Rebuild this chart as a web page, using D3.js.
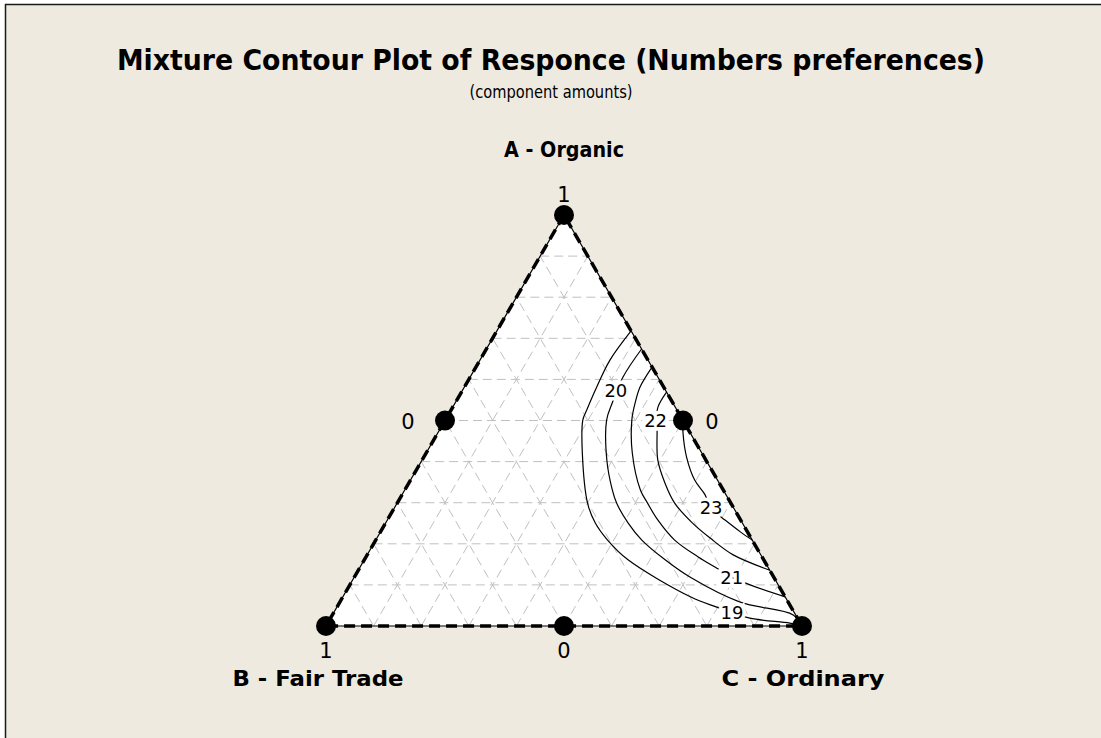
<!DOCTYPE html>
<html>
<head>
<meta charset="utf-8">
<script src="https://cdn.jsdelivr.net/npm/d3@7"></script>
<style>
  body { margin: 0; background: #ffffff; }
  text { font-family: "DejaVu Sans", Verdana, sans-serif; fill: #000; }
</style>
</head>
<body>
<script>
// mixture points are stored as [A, C]; B = 1 - A - C
var contourLevels = [19, 20, 21, 22, 23];

var contour19 = [[0.718,0.282],[0.647,0.273],[0.582,0.278],[0.526,0.285],[0.501,0.289],[0.421,0.328],
    [0.299,0.400],[0.251,0.440],[0.209,0.487],[0.161,0.554],[0.071,0.730],[0.046,0.798],[0.019,0.881],
    [0.007,0.971],[0,1]];
var contour20 = [[0.674,0.326],[0.606,0.321],[0.543,0.330],[0.501,0.339],[0.404,0.388],[0.331,0.436],
    [0.299,0.461],[0.251,0.509],[0.209,0.559],[0.161,0.632],[0.119,0.705],[0.058,0.841],[0.027,0.968],[0,1]];
var contour21 = [[0.630,0.370],[0.582,0.369],[0.543,0.378],[0.501,0.392],[0.421,0.433],[0.331,0.495],
    [0.299,0.526],[0.258,0.568],[0.209,0.628],[0.168,0.698],[0.141,0.750],[0.119,0.793],[0.100,0.841],
    [0.071,0.929]];
var contour22 = [[0.569,0.431],[0.533,0.431],[0.501,0.444],[0.477,0.457],[0.404,0.495],[0.348,0.538],
    [0.299,0.583],[0.251,0.644],[0.214,0.700],[0.173,0.769],[0.136,0.864]];
var contour23 = [[0.5,0.5],[0.470,0.515],[0.411,0.552],[0.355,0.597],[0.319,0.637],[0.287,0.663],
    [0.263,0.701],[0.229,0.756],[0.209,0.791]];

// where each level's label sits on its curve
var labelSpots = [[0.034,0.836],[0.574,0.322],[0.119,0.793],[0.501,0.442],[0.290,0.664]];

// design points: vertices then edge midpoints
var designPoints = [[1,0],[0,0],[0,1],[0.5,0],[0.5,0.5],[0,0.5]];
var gridTicks = [0.1,0.2,0.3,0.4,0.5,0.6,0.7,0.8,0.9];
var vertexNames = ["A - Organic", "B - Fair Trade", "C - Ordinary"];
var vertexTicks = ["1", "1", "1"];
var edgeTicks = ["0", "0", "0"];

window.onload = () => {
    var margin = { top: 215, left: 326 },
        width = 476,
        height = 411;

    var x = d3.scaleLinear().domain([0, 1]).range([0, width]);
    var y = d3.scaleLinear().domain([0, 1]).range([height, 0]);

    var px = function (p) { return x(p[1] + p[0] / 2); };
    var py = function (p) { return y(p[0]); };

    var svg = d3.select("body").append("svg")
        .attr("width", 1101)
        .attr("height", 738);

    // figure region
    svg.append("rect")
        .attr("x", 5.5).attr("y", 4.5)
        .attr("width", 1110).attr("height", 750)
        .attr("fill", "#eeeae0")
        .attr("stroke", "#1a1a1a")
        .attr("stroke-width", 1.5);

    svg.append("text")
        .attr("x", 551).attr("y", 70)
        .attr("text-anchor", "middle")
        .attr("font-weight", "bold")
        .attr("font-size", "28px")
        .attr("textLength", 868)
        .attr("lengthAdjust", "spacingAndGlyphs")
        .text("Mixture Contour Plot of Responce (Numbers preferences)");

    svg.append("text")
        .attr("x", 551).attr("y", 98)
        .attr("text-anchor", "middle")
        .attr("font-size", "18px")
        .attr("textLength", 163)
        .attr("lengthAdjust", "spacingAndGlyphs")
        .text("(component amounts)");

    var g = svg.append("g")
        .attr("transform", "translate(" + margin.left + "," + margin.top + ")");

    var line = d3.line().x(px).y(py);
    var triangle = [[1, 0], [0, 0], [0, 1], [1, 0]];

    g.append("path")
        .attr("d", line(triangle))
        .attr("fill", "#ffffff");

    // grid lines parallel to the three sides
    var gridSegs = [];
    gridTicks.forEach(function (t) {
        gridSegs.push([[t, 0], [t, 1 - t]]);          // constant A
        gridSegs.push([[0, t], [1 - t, t]]);          // constant C
        gridSegs.push([[0, 1 - t], [1 - t, 0]]);      // constant B
    });
    g.append("g").selectAll("path")
        .data(gridSegs)
        .enter()
        .append("path")
        .attr("d", line)
        .attr("fill", "none")
        .attr("stroke", "#c0c0c0")
        .attr("stroke-width", 1)
        .attr("stroke-dasharray", "9,5");

    // contour curves
    var curves = [contour19, contour20, contour21, contour22, contour23];
    var smooth = d3.line().x(px).y(py).curve(d3.curveCatmullRom.alpha(0.5));
    g.append("g").selectAll("path")
        .data(curves)
        .enter()
        .append("path")
        .attr("d", smooth)
        .attr("fill", "none")
        .attr("stroke", "#000")
        .attr("stroke-width", 1.2);

    g.append("g").selectAll("text")
        .data(contourLevels)
        .enter()
        .append("text")
        .attr("x", function (d, i) { return px(labelSpots[i]); })
        .attr("y", function (d, i) { return py(labelSpots[i]) + 7; })
        .attr("text-anchor", "middle")
        .attr("font-size", "18px")
        .attr("stroke", "#ffffff")
        .attr("stroke-width", 7)
        .attr("paint-order", "stroke")
        .text(function (d) { return d; });

    // triangle edges: thin solid line under a heavy dash
    g.append("path")
        .attr("d", line(triangle))
        .attr("fill", "none")
        .attr("stroke", "#000")
        .attr("stroke-width", 1.2);
    g.append("path")
        .attr("d", line(triangle))
        .attr("fill", "none")
        .attr("stroke", "#000")
        .attr("stroke-width", 3.5)
        .attr("stroke-dasharray", "11,6");

    g.append("g").selectAll("circle")
        .data(designPoints)
        .enter()
        .append("circle")
        .attr("cx", px)
        .attr("cy", py)
        .attr("r", 10)
        .attr("fill", "#000");

    // tick labels at vertices and edge midpoints
    var tickFont = "21px";
    var vOff = [[0, -13], [0, 32], [0, 32]];
    g.append("g").selectAll("text")
        .data(vertexTicks)
        .enter()
        .append("text")
        .attr("x", function (d, i) { return px(designPoints[i]) + vOff[i][0]; })
        .attr("y", function (d, i) { return py(designPoints[i]) + vOff[i][1]; })
        .attr("text-anchor", "middle")
        .attr("font-size", tickFont)
        .text(function (d) { return d; });

    var eOff = [[-37, 8], [29, 8], [0, 32]];
    g.append("g").selectAll("text")
        .data(edgeTicks)
        .enter()
        .append("text")
        .attr("x", function (d, i) { return px(designPoints[i + 3]) + eOff[i][0]; })
        .attr("y", function (d, i) { return py(designPoints[i + 3]) + eOff[i][1]; })
        .attr("text-anchor", "middle")
        .attr("font-size", tickFont)
        .text(function (d) { return d; });

    // component names
    var nOff = [[0, -58], [-8, 60], [1, 60]];
    var nLen = [120, 171, 163];
    g.append("g").selectAll("text")
        .data(vertexNames)
        .enter()
        .append("text")
        .attr("x", function (d, i) { return px(designPoints[i]) + nOff[i][0]; })
        .attr("y", function (d, i) { return py(designPoints[i]) + nOff[i][1]; })
        .attr("text-anchor", "middle")
        .attr("font-weight", "bold")
        .attr("font-size", "22px")
        .attr("textLength", function (d, i) { return nLen[i]; })
        .attr("lengthAdjust", "spacingAndGlyphs")
        .text(function (d) { return d; });
};
</script>
</body>
</html>
